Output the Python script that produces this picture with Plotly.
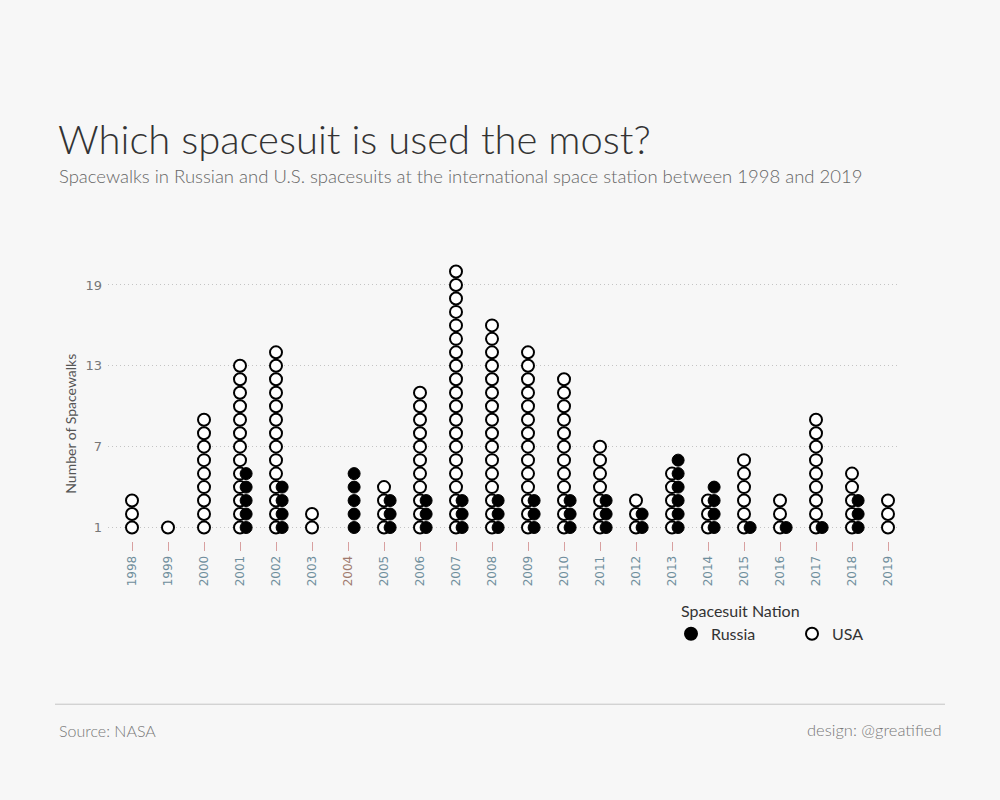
import plotly.graph_objects as go

years = list(range(1998, 2020))
usa = [3, 1, 9, 13, 14, 2, 0, 4, 11, 20, 16, 14, 12, 7, 3, 5, 3, 6, 3, 9, 5, 3]
russia = [0, 0, 0, 5, 4, 0, 5, 3, 3, 3, 3, 3, 3, 3, 2, 6, 4, 1, 1, 1, 3, 0]
ytick_vals = [1, 7, 13, 19]

# pixel helpers for the plot area
L, R, T, B = 108, 102, 258, 258.5
W, H = 1000 - L - R, 800 - T - B


def px(x):
    return (x - L) / W


def py(y):
    return (800 - B - y) / H


ux, uy, rx, ry = [], [], [], []
for yr, u, r in zip(years, usa, russia):
    for k in range(1, u + 1):
        ux.append(yr)
        uy.append(k)
    for k in range(1, r + 1):
        rx.append(yr + 0.17)
        ry.append(k)

fig = go.Figure()
fig.add_trace(go.Scatter(
    x=ux, y=uy, mode="markers", name="USA", legendrank=2,
    marker=dict(size=12, color="white", line=dict(color="black", width=2)),
))
fig.add_trace(go.Scatter(
    x=rx, y=ry, mode="markers", name="Russia", legendrank=1,
    marker=dict(size=12, color="black", line=dict(color="black", width=1)),
))

ticktext = []
for yr, u in zip(years, usa):
    col = "#6f8e9c" if u > 0 else "#a07a6e"
    ticktext.append(f'<span style="color:{col}">{yr}</span>')

fig.update_layout(
    width=1000, height=800,
    paper_bgcolor="#f7f7f7", plot_bgcolor="#f7f7f7",
    margin=dict(l=L, r=R, t=T, b=B, autoexpand=False),
    font=dict(family="Lato, sans-serif", color="#555555"),
    showlegend=True,
    legend=dict(
        orientation="h", xref="container", yref="container",
        x=0.671, y=1 - 596 / 800, xanchor="left", yanchor="top",
        title=dict(text="\u2002Spacesuit Nation", side="top",
                   font=dict(size=16, color="#333333")),
        font=dict(size=16, color="#333333"),
        entrywidth=76, bgcolor="rgba(0,0,0,0)",
        itemsizing="constant", itemwidth=30,
    ),
    xaxis=dict(
        range=[1998 - 24 / 36, 2019 + 10 / 36],
        tickmode="array", tickvals=years, ticktext=ticktext,
        tickangle=-90, tickfont=dict(size=12, family="DejaVu Sans"),
        showgrid=False, zeroline=False, showline=False,
        ticks="outside", ticklen=9, tickcolor="#d8a0a0", tickwidth=1,
    ),
    yaxis=dict(
        range=[0, 21], tickmode="array", tickvals=ytick_vals,
        tickfont=dict(size=13, color="#777777", family="DejaVu Sans"),
        ticklabelstandoff=5,
        showgrid=True, gridcolor="#c4c4c4", griddash="1px,3px", gridwidth=1,
        zeroline=False, showline=False, ticks="",
    ),
    shapes=[dict(type="line", xref="paper", yref="paper",
                 x0=px(55), x1=px(945), y0=py(705), y1=py(705),
                 line=dict(color="#c4c4c4", width=1))],
    annotations=[
        dict(text="Which spacesuit is used the most?", xref="paper", yref="paper",
             x=px(56), y=py(139), xanchor="left", yanchor="middle", showarrow=False,
             font=dict(size=40, color="#333333", family="Lato, sans-serif", weight=300)),
        dict(text="Spacewalks in Russian and U.S. spacesuits at the international space station between 1998 and 2019",
             xref="paper", yref="paper", x=px(57), y=py(176), xanchor="left", yanchor="middle",
             showarrow=False, font=dict(size=18.5, color="#666666", family="Lato, sans-serif", weight=300)),
        dict(text="Number of Spacewalks", xref="paper", yref="paper", x=px(71), y=py(424),
             xanchor="center", yanchor="middle", textangle=-90, showarrow=False,
             font=dict(size=14, color="#555555", family="Lato, sans-serif")),
        dict(text="Source: NASA", xref="paper", yref="paper", x=px(57), y=py(731),
             xanchor="left", yanchor="middle", showarrow=False,
             font=dict(size=16, color="#777777", family="Lato, sans-serif", weight=300)),
        dict(text="design: @greatified", xref="paper", yref="paper", x=px(943), y=py(731),
             xanchor="right", yanchor="middle", showarrow=False,
             font=dict(size=16.5, color="#777777", family="Lato, sans-serif", weight=300)),
    ],
)

fig.write_html("out.html")
